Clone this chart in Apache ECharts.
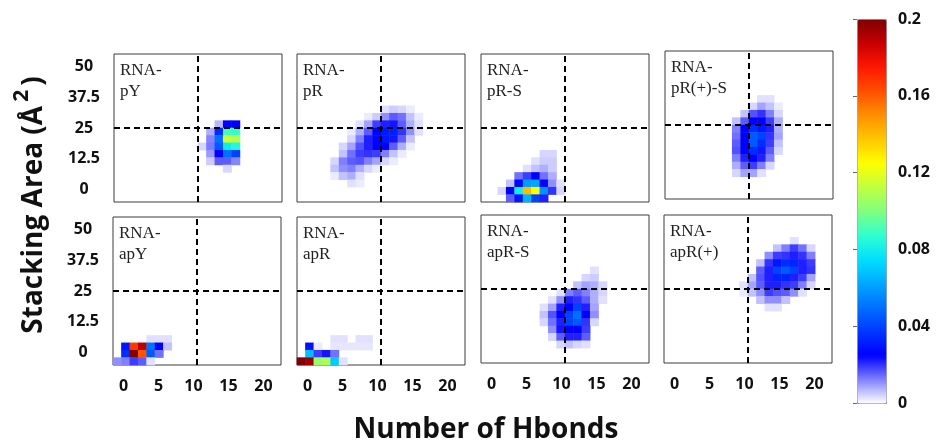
<!DOCTYPE html>
<html>
<head>
<meta charset="utf-8">
<title>Hbonds vs stacking area</title>
<script src="https://cdn.jsdelivr.net/npm/echarts@6/dist/echarts.min.js"></script>
<style>
    html, body { margin: 0; padding: 0; background: #fff; }
    #main { width: 937px; height: 444px; }
</style>
</head>
<body>
<div id="main"></div>
<script>
// bin centres: number of Hbonds (width 1.2) and stacking area in A^2 (width 3)
var xBins = [-0.9, 0.3, 1.5, 2.7, 3.9, 5.1, 6.3, 7.5, 8.7, 9.9, 11.1, 12.3, 13.5, 14.7, 15.9, 17.1, 18.3, 19.5, 20.7, 21.9];
var yBins = [-3.5, -0.5, 2.5, 5.5, 8.5, 11.5, 14.5, 17.5, 20.5, 23.5, 26.5, 29.5, 32.5, 35.5, 38.5, 41.5, 44.5, 47.5, 50.5, 53.5];
var xTicks = [0, 5, 10, 15, 20];
var yTicks = [0, 12.5, 25, 37.5, 50];
var hbondCut = 10.5;
var areaCut = 25;

var panelNames = ['RNA-\npY', 'RNA-\npR', 'RNA-\npR-S', 'RNA-\npR(+)-S', 'RNA-\napY', 'RNA-\napR', 'RNA-\napR-S', 'RNA-\napR(+)'];

// [xBin index, yBin index, fraction]
var rnaPY = [
    [12,10,.007],[13,10,.025],[14,10,.025],
    [11,9,.008],[12,9,.035],[13,9,.09],[14,9,.088],
    [11,8,.012],[12,8,.05],[13,8,.115],[14,8,.11],
    [10,7,.004],[11,7,.013],[12,7,.045],[13,7,.08],[14,7,.085],
    [11,6,.01],[12,6,.025],[13,6,.05],[14,6,.04],
    [11,5,.005],[12,5,.016],[13,5,.016],[14,5,.012],
    [13,4,.004]
];
var rnaPR = [
    [10,12,.003],[11,12,.005],[12,12,.004],[13,12,.002],
    [8,11,.002],[9,11,.005],[10,11,.011],[11,11,.016],[12,11,.014],[13,11,.006],[14,11,.002],
    [7,10,.003],[8,10,.009],[9,10,.019],[10,10,.022],[11,10,.023],[12,10,.016],[13,10,.008],[14,10,.003],
    [6,9,.002],[7,9,.008],[8,9,.016],[9,9,.025],[10,9,.03],[11,9,.032],[12,9,.02],[13,9,.011],[14,9,.003],
    [6,8,.004],[7,8,.0125],[8,8,.022],[9,8,.026],[10,8,.03],[11,8,.023],[12,8,.016],[13,8,.006],
    [5,7,.004],[6,7,.009],[7,7,.017],[8,7,.022],[9,7,.025],[10,7,.025],[11,7,.016],[12,7,.008],[13,7,.002],
    [5,6,.006],[6,6,.014],[7,6,.019],[8,6,.02],[9,6,.019],[10,6,.0125],[11,6,.006],[12,6,.002],
    [4,5,.004],[5,5,.0125],[6,5,.016],[7,5,.017],[8,5,.0125],[9,5,.009],[10,5,.004],[11,5,.002],
    [4,4,.006],[5,4,.011],[6,4,.0125],[7,4,.008],[8,4,.004],[9,4,.002],
    [4,3,.002],[5,3,.006],[6,3,.008],[7,3,.003],
    [6,2,.003],[7,2,.002]
];
var rnaPRS = [
    [7,6,.004],[8,6,.004],
    [6,5,.003],[7,5,.005],[8,5,.005],
    [5,4,.003],[6,4,.006],[7,4,.008],[8,4,.005],
    [4,3,.014],[5,3,.019],[6,3,.025],[7,3,.014],[8,3,.008],
    [3,2,.006],[4,2,.026],[5,2,.06],[6,2,.062],[7,2,.026],[8,2,.011],[9,2,.003],
    [2,1,.004],[3,1,.025],[4,1,.08],[5,1,.14],[6,1,.125],[7,1,.058],[8,1,.02],[9,1,.004],
    [3,0,.016],[4,0,.03],[5,0,.065],[6,0,.04],[7,0,.022]
];
var rnaPRpS = [
    [11,13,.003],[12,13,.003],
    [10,12,.004],[11,12,.009],[12,12,.006],[13,12,.002],
    [9,11,.006],[10,11,.017],[11,11,.02],[12,11,.0125],[13,11,.004],
    [8,10,.006],[9,10,.016],[10,10,.025],[11,10,.025],[12,10,.019],[13,10,.008],
    [8,9,.0125],[9,9,.025],[10,9,.035],[11,9,.03],[12,9,.022],[13,9,.008],
    [8,8,.014],[9,8,.025],[10,8,.045],[11,8,.04],[12,8,.02],[13,8,.009],
    [8,7,.016],[9,7,.025],[10,7,.045],[11,7,.035],[12,7,.019],[13,7,.006],
    [8,6,.017],[9,6,.025],[10,6,.035],[11,6,.023],[12,6,.016],[13,6,.004],
    [8,5,.0125],[9,5,.022],[10,5,.025],[11,5,.022],[12,5,.0125],
    [8,4,.008],[9,4,.016],[10,4,.019],[11,4,.0125],[12,4,.004],
    [8,3,.004],[9,3,.009],[10,3,.009],[11,3,.003]
];
var rnaApY = [
    [4,3,.003],[5,3,.003],[6,3,.003],
    [1,2,.03],[2,2,.168],[3,2,.19],[4,2,.05],[5,2,.025],[6,2,.006],
    [1,1,.035],[2,1,.2],[3,1,.162],[4,1,.045],[5,1,.014],
    [0,0,.011],[1,0,.0125],[2,0,.019],[3,0,.016],[4,0,.003]
];
var rnaApR = [
    [4,3,.003],[5,3,.003],[7,3,.003],[8,3,.003],
    [1,2,.028],[2,2,.002],[4,2,.0025],[5,2,.0025],[6,2,.0025],[7,2,.0025],[8,2,.0025],
    [1,1,.068],[2,1,.019],[3,1,.023],[4,1,.014],
    [0,0,.2],[1,0,.195],[2,0,.105],[3,0,.108],[4,0,.07],[5,0,.003]
];
var rnaApRS = [
    [13,12,.003],
    [12,11,.004],[13,11,.005],
    [11,10,.006],[12,10,.009],[13,10,.008],[14,10,.004],
    [9,9,.003],[10,9,.0125],[11,9,.016],[12,9,.0125],[13,9,.008],[14,9,.004],
    [8,8,.003],[9,8,.011],[10,8,.022],[11,8,.02],[12,8,.016],[13,8,.008],[14,8,.003],
    [7,7,.003],[8,7,.009],[9,7,.022],[10,7,.025],[11,7,.04],[12,7,.022],[13,7,.009],
    [7,6,.006],[8,6,.017],[9,6,.025],[10,6,.04],[11,6,.05],[12,6,.025],[13,6,.011],
    [7,5,.004],[8,5,.014],[9,5,.022],[10,5,.04],[11,5,.045],[12,5,.02],[13,5,.004],
    [8,4,.011],[9,4,.023],[10,4,.025],[11,4,.025],[12,4,.019],
    [8,3,.004],[9,3,.016],[10,3,.022],[11,3,.022],[12,3,.016],
    [9,2,.004],[10,2,.006],[11,2,.004],[12,2,.003]
];
var rnaApRp = [
    [15,16,.003],
    [13,15,.006],[14,15,.0125],[15,15,.019],[16,15,.014],[17,15,.004],
    [12,14,.011],[13,14,.019],[14,14,.02],[15,14,.022],[16,14,.02],[17,14,.0125],
    [11,13,.006],[12,13,.02],[13,13,.03],[14,13,.035],[15,13,.033],[16,13,.022],[17,13,.019],
    [11,12,.016],[12,12,.022],[13,12,.04],[14,12,.045],[15,12,.04],[16,12,.022],[17,12,.02],
    [10,11,.006],[11,11,.017],[12,11,.022],[13,11,.033],[14,11,.033],[15,11,.022],[16,11,.019],[17,11,.009],
    [9,10,.003],[10,10,.009],[11,10,.016],[12,10,.022],[13,10,.022],[14,10,.02],[15,10,.019],[16,10,.0125],[17,10,.004],
    [9,9,.002],[10,9,.006],[11,9,.011],[12,9,.019],[13,9,.017],[14,9,.016],[15,9,.011],[16,9,.003],
    [11,8,.006],[12,8,.011],[13,8,.011],[14,8,.006],
    [12,7,.003],[13,7,.003]
];
var panelData = [rnaPY, rnaPR, rnaPRS, rnaPRpS, rnaApY, rnaApR, rnaApRS, rnaApRp];

// white -> blue -> cyan -> yellow -> dark red
var jetWhite = ['#ffffff', '#8080ff', '#0000ff', '#0038ff', '#0070ff', '#00a8ff', '#00e0ff', '#30ffd0',
    '#80ff80', '#c0ff40', '#ffff00', '#ffc800', '#ff9000', '#ff5000', '#ff1800', '#c80000', '#800000'];

// left / top of every panel, in px
var panelPos = [[114, 54], [297, 54], [481, 54], [665, 51], [113, 217], [297, 217], [481, 215], [664, 215]];

window.onload = function () {
    showChart();
}

function showChart() {
    var myChart = echarts.init(document.getElementById('main'));
    var tickFont = '"Open Sans", sans-serif';

    var grid = [], xAxis = [], yAxis = [], series = [], title = [], heatIdx = [];

    for (var i = 0; i < 8; i++) {
        var isBottom = i >= 4;
        var isLeft = i % 4 === 0;
        grid.push({
            left: panelPos[i][0], top: panelPos[i][1], width: 168, height: 148,
            show: true, borderColor: '#3c3c3c', borderWidth: 1, backgroundColor: '#fff'
        });
        xAxis.push({
            type: 'value', gridIndex: i, min: -1.5, max: 22.5, position: 'bottom',
            axisLine: { show: false }, axisTick: { show: false }, splitLine: { show: false },
            axisLabel: {
                show: isBottom, customValues: xTicks, margin: 13,
                fontSize: 16, fontWeight: 'bold', color: '#111', fontFamily: tickFont
            }
        });
        xAxis.push({ type: 'category', gridIndex: i, data: xBins, show: false, position: 'top' });
        yAxis.push({
            type: 'value', gridIndex: i, min: -5, max: 55, position: 'left',
            axisLine: { show: false }, axisTick: { show: false }, splitLine: { show: false },
            axisLabel: {
                show: isLeft, customValues: yTicks, margin: 30, align: 'center',
                fontSize: 16, fontWeight: 'bold', color: '#111', fontFamily: tickFont
            }
        });
        yAxis.push({ type: 'category', gridIndex: i, data: yBins, show: false, position: 'right' });

        heatIdx.push(series.length);
        series.push({
            type: 'heatmap',
            xAxisIndex: 2 * i + 1,
            yAxisIndex: 2 * i + 1,
            silent: true,
            data: panelData[i]
        });
        series.push({
            type: 'line',
            xAxisIndex: 2 * i,
            yAxisIndex: 2 * i,
            data: [],
            silent: true,
            markLine: {
                silent: true,
                symbol: 'none',
                label: { show: false },
                lineStyle: { color: '#000', type: [6, 4], width: 2 },
                data: [{ xAxis: hbondCut }, { yAxis: areaCut }]
            }
        });

        title.push({
            text: panelNames[i],
            left: panelPos[i][0] + 6,
            top: panelPos[i][1] + 6,
            padding: 0,
            textStyle: {
                fontFamily: '"Liberation Serif", serif',
                fontSize: 17,
                fontWeight: 'normal',
                color: '#222',
                lineHeight: 21
            }
        });
    }

    // colour bar tick labels
    grid.push({ left: 857, top: 19, width: 29, height: 384, show: false });
    xAxis.push({ type: 'value', gridIndex: 8, show: false });
    yAxis.push({
        type: 'value', gridIndex: 8, min: 0, max: 0.2, interval: 0.04, position: 'right',
        axisLine: { show: false },
        axisTick: { show: true, inside: true, length: 4, lineStyle: { color: '#666' } },
        splitLine: { show: false },
        axisLabel: {
            margin: 12, fontSize: 16, fontWeight: 'bold', color: '#111', fontFamily: tickFont,
            formatter: function (v) { return String(+v.toFixed(2)); }
        }
    });

    option = {
        animation: false,
        backgroundColor: '#fff',
        title: title,
        grid: grid,
        xAxis: xAxis,
        yAxis: yAxis,
        visualMap: {
            type: 'continuous',
            min: 0,
            max: 0.2,
            seriesIndex: heatIdx,
            orient: 'vertical',
            left: 857,
            top: 19,
            itemWidth: 29,
            itemHeight: 384,
            padding: 0,
            calculable: false,
            borderColor: '#999',
            borderWidth: 1,
            inRange: { color: jetWhite }
        },
        graphic: [
            {
                type: 'text',
                x: 30,
                y: 205,
                rotation: Math.PI / 2,
                style: {
                    text: '{a|Stacking Area (Å}{s|2}{a|)}',
                    textAlign: 'center',
                    textVerticalAlign: 'middle',
                    rich: {
                        a: { font: 'bold 28px "Open Sans", sans-serif', fill: '#111', lineHeight: 36, verticalAlign: 'bottom' },
                        s: { font: 'bold 21px "Open Sans", sans-serif', fill: '#111', lineHeight: 36, verticalAlign: 'top', padding: [0, 4, 0, 4] }
                    }
                }
            },
            {
                type: 'text',
                x: 486,
                y: 430,
                style: {
                    text: 'Number of Hbonds',
                    font: 'bold 28px "Open Sans", sans-serif',
                    fill: '#111',
                    textAlign: 'center',
                    textVerticalAlign: 'middle'
                }
            }
        ],
        series: series
    };

    myChart.setOption(option);
}
</script>
</body>
</html>
